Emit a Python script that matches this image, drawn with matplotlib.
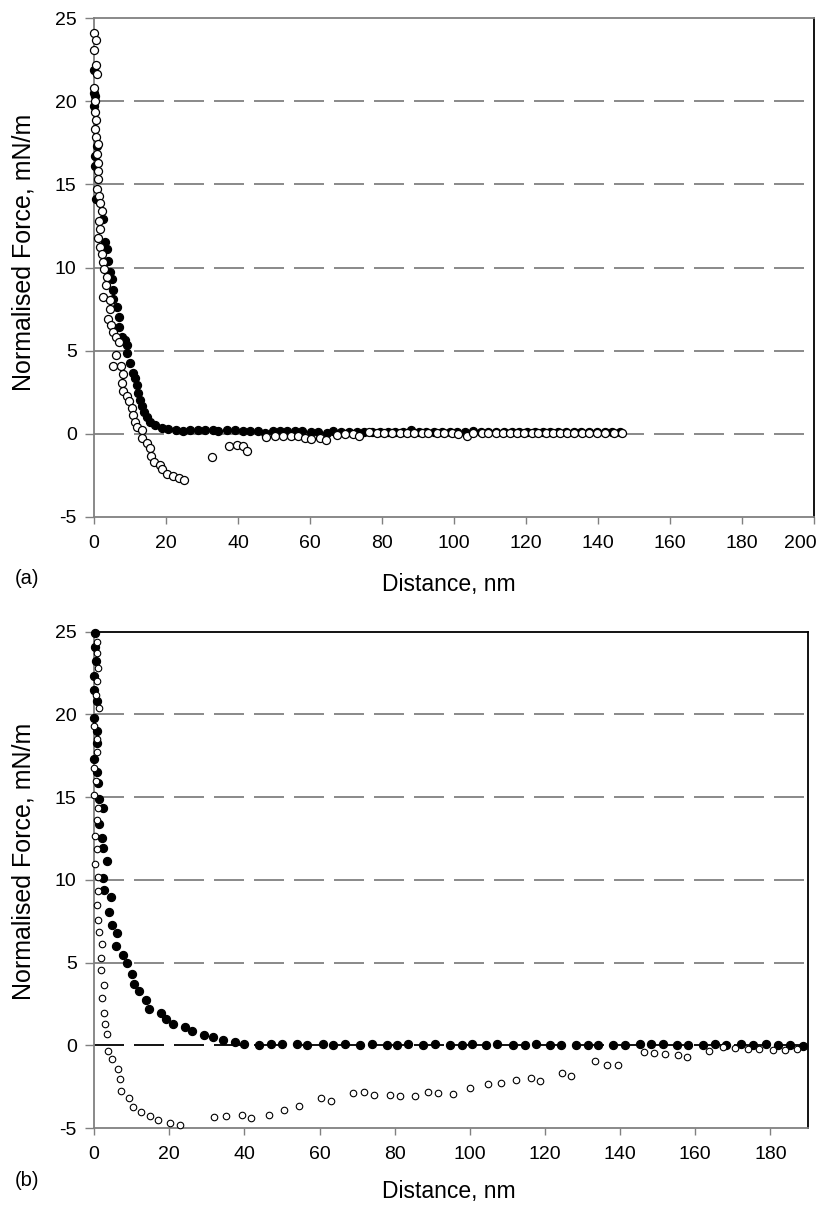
import matplotlib
matplotlib.use('Agg')
import matplotlib.pyplot as plt
import matplotlib.transforms as mtransforms

plt.rcParams['font.family'] = ['Liberation Sans', 'DejaVu Sans']
plt.rcParams['lines.scale_dashes'] = False
plt.rcParams['axes.unicode_minus'] = False

# (a) approach (filled) and separation (open) force curves
a_filled_x = [0.0, 0.0, 0.2, 0.0, 0.7, 0.4, 0.4, 0.6, 2.6, 3.1, 3.5, 4.0, 4.4, 4.9, 5.4, 5.4,
              6.3, 6.8, 7.0, 7.7, 8.6, 9.1, 9.1, 10.0, 10.7, 11.4, 11.9, 12.3, 12.8, 13.2, 13.9,
              14.6, 15.6, 16.9, 18.8, 20.6, 22.9, 24.8, 26.7, 29.0, 30.8, 33.1, 34.5, 36.9, 39.2,
              41.5, 43.3, 45.6, 47.5, 49.8, 51.7, 53.6, 55.9, 57.8, 60.2, 62.3, 64.7, 66.5, 68.6,
              70.8, 73.0, 75.1, 77.3, 79.4, 81.6, 83.7, 85.9, 88.0, 90.2, 92.3, 94.5, 96.6, 98.8,
              100.9, 103.1, 105.2, 107.4, 109.5, 111.7, 113.8, 116.0, 118.1, 120.3, 122.4, 124.6,
              126.7, 128.9, 131.0, 133.2, 135.3, 137.5, 139.6, 141.8, 143.9, 146.1]
a_filled_y = [21.9, 20.5, 20.3, 19.7, 17.3, 16.7, 16.1, 14.1, 12.9, 11.55, 11.1, 10.4, 9.75, 9.3,
              8.65, 8.1, 7.6, 7.0, 6.45, 5.85, 5.65, 5.35, 4.85, 4.25, 3.65, 3.35, 2.95, 2.45, 2.05,
              1.65, 1.34, 1.04, 0.74, 0.54, 0.34, 0.3, 0.24, 0.14, 0.2, 0.24, 0.24, 0.24, 0.14, 0.2,
              0.2, 0.14, 0.14, 0.14, 0.05, 0.14, 0.14, 0.14, 0.14, 0.14, 0.1, 0.12, 0.05, 0.14, 0.1,
              0.1, 0.12, 0.1, 0.1, 0.1, 0.12, 0.1, 0.1, 0.2, 0.1, 0.1, 0.1, 0.1, 0.1, 0.1, 0.1,
              0.15, 0.1, 0.1, 0.1, 0.1, 0.1, 0.1, 0.1, 0.1, 0.1, 0.1, 0.1, 0.1, 0.1, 0.1, 0.1,
              0.1, 0.1, 0.1, 0.1]
a_open_x = [0.0, 0.5, 0.1, 0.55, 0.7, 0.0, 0.3, 0.3, 0.5, 0.2, 0.5, 1.1, 0.8, 1.0, 1.2, 1.1, 0.8,
            1.4, 1.7, 2.1, 1.5, 1.7, 1.2, 1.7, 2.1, 2.6, 2.8, 3.5, 3.3, 2.6, 4.3, 4.4, 4.0, 4.6,
            5.2, 6.1, 7.0, 6.0, 5.4, 7.4, 8.0, 7.9, 8.1, 9.1, 9.8, 10.5, 10.9, 11.4, 12.0, 13.4,
            13.4, 14.6, 15.6, 15.8, 16.7, 18.3, 18.8, 20.4, 22.0, 23.6, 25.1, 32.7, 37.5, 39.8,
            41.5, 42.6, 47.8, 50.3, 52.6, 54.6, 56.7, 58.5, 60.3, 62.7, 64.4, 67.4, 69.7, 71.9,
            73.7, 76.5, 78.5, 80.6, 82.7, 85.0, 86.9, 88.9, 91.0, 92.9, 95.2, 97.2, 99.4, 101.2,
            103.5, 105.4, 107.7, 109.5, 111.7, 113.7, 115.6, 117.4, 119.4, 121.6, 123.4, 125.6,
            127.6, 129.4, 131.3, 133.3, 135.5, 137.6, 139.6, 141.9, 144.3, 146.6]
a_open_y = [24.1, 23.65, 23.05, 22.15, 21.65, 20.8, 20.0, 19.35, 18.85, 18.3, 17.85, 17.4, 16.85,
            16.3, 15.8, 15.3, 14.7, 14.3, 13.9, 13.4, 12.8, 12.3, 11.75, 11.25, 10.8, 10.35, 9.9,
            9.45, 8.95, 8.25, 8.05, 7.5, 6.9, 6.55, 6.15, 5.8, 5.55, 4.75, 4.05, 4.05, 3.6, 3.05,
            2.6, 2.3, 1.95, 1.55, 1.15, 0.74, 0.4, 0.2, -0.26, -0.56, -0.86, -1.32, -1.67, -1.86,
            -2.12, -2.4, -2.53, -2.63, -2.77, -1.42, -0.72, -0.66, -0.72, -1.02, -0.22, -0.16,
            -0.16, -0.16, -0.16, -0.28, -0.34, -0.26, -0.36, -0.06, -0.04, -0.04, -0.12, 0.08,
            0.04, 0.02, 0.02, 0.02, 0.02, 0.04, 0.02, 0.02, 0.02, 0.02, 0.02, 0.0, -0.16, 0.02,
            0.02, 0.02, 0.02, 0.02, 0.02, 0.02, 0.04, 0.04, 0.02, 0.02, 0.02, 0.02, 0.02, 0.02,
            0.02, 0.02, 0.02, 0.02, 0.02, 0.02]

# (b) approach (filled) and separation (open) force curves
b_filled_x = [0.3, 0.3, 0.5, 0.1, 0.0, 0.7, 0.0, 0.7, 0.7, 0.0, 0.9, 1.1, 1.4, 2.3, 1.3, 2.0,
              2.5, 3.4, 2.5, 2.7, 4.5, 4.0, 4.9, 6.0, 5.9, 7.6, 8.9, 10.0, 10.6, 12.0, 13.8, 14.7,
              17.7, 19.1, 20.9, 24.2, 26.1, 29.3, 31.7, 34.2, 37.5, 40.0, 43.9, 47.0, 49.9, 53.9,
              56.7, 61.0, 63.6, 66.9, 70.7, 73.9, 77.9, 80.5, 83.6, 87.6, 90.7, 94.7, 97.8, 100.5,
              104.4, 107.1, 111.5, 114.6, 117.7, 121.3, 124.3, 128.3, 131.4, 134.1, 138.1, 141.2,
              145.2, 148.3, 151.4, 155.0, 158.0, 162.0, 165.2, 168.3, 172.2, 175.4, 178.9, 182.0,
              185.1, 188.7]
b_filled_y = [24.9, 24.1, 23.2, 22.3, 21.5, 20.8, 19.8, 19.0, 18.25, 17.3, 16.5, 15.85, 14.9,
              14.35, 13.4, 12.5, 11.9, 11.15, 10.1, 9.4, 8.95, 8.03, 7.26, 6.8, 6.0, 5.44, 5.0,
              4.28, 3.69, 3.29, 2.72, 2.22, 1.98, 1.62, 1.31, 1.11, 0.85, 0.65, 0.5, 0.3, 0.2, 0.1,
              0.0, 0.1, 0.1, 0.05, 0.0, 0.1, 0.0, 0.1, 0.0, 0.05, 0.0, 0.0, 0.05, 0.0, 0.05, 0.0,
              0.0, 0.05, 0.0, 0.05, 0.0, 0.0, 0.05, 0.0, 0.0, 0.0, 0.0, 0.0, 0.0, 0.0, 0.05, 0.1,
              0.05, 0.0, 0.0, 0.0, 0.05, 0.0, 0.05, 0.0, 0.05, 0.0, 0.0, -0.05]
b_open_x = [0.7, 0.7, 1.1, 0.7, 0.45, 1.3, 0.0, 0.9, 0.7, 0.0, 0.5, 0.0, 1.1, 0.9, 0.3, 0.9, 0.3,
            1.1, 1.1, 0.7, 1.1, 1.3, 2.2, 1.9, 1.9, 2.7, 2.2, 2.7, 2.9, 3.5, 3.8, 4.7, 6.3, 6.9,
            7.3, 9.4, 10.4, 12.6, 15.0, 17.1, 20.2, 23.0, 31.9, 35.1, 39.3, 41.7, 46.6, 50.6,
            54.6, 60.4, 63.1, 68.8, 71.9, 74.4, 78.7, 81.3, 85.3, 89.0, 91.6, 95.4, 100.0, 104.9,
            108.4, 112.2, 116.4, 118.7, 124.6, 127.0, 133.2, 136.5, 139.5, 146.3, 149.1, 152.0,
            155.5, 157.9, 163.6, 167.5, 170.5, 173.9, 176.9, 180.8, 183.9, 187.0]
b_open_y = [24.4, 23.7, 22.8, 22.0, 21.2, 20.4, 19.3, 18.5, 17.7, 16.75, 15.95, 15.1, 14.35, 13.6,
            12.65, 11.85, 10.95, 10.2, 9.3, 8.5, 7.6, 6.85, 6.1, 5.3, 4.55, 3.65, 2.85, 1.95, 1.28,
            0.66, -0.34, -0.8, -1.46, -2.04, -2.74, -3.2, -3.7, -4.06, -4.26, -4.5, -4.7, -4.8,
            -4.34, -4.3, -4.22, -4.4, -4.2, -3.9, -3.66, -3.2, -3.34, -2.9, -2.84, -3.0, -3.0,
            -3.04, -3.04, -2.84, -2.9, -2.96, -2.56, -2.34, -2.26, -2.1, -2.0, -2.16, -1.7, -1.86,
            -0.94, -1.18, -1.16, -0.38, -0.46, -0.5, -0.6, -0.68, -0.34, -0.1, -0.16, -0.22,
            -0.22, -0.28, -0.3, -0.25]

y_ticks = [-5, 0, 5, 10, 15, 20, 25]
grid_levels = [0, 5, 10, 15, 20]

GRAY = '#808080'


def style_axes(ax, xmax, xticks, top_color, zero_color):
    ax.set_xlim(0, xmax)
    ax.set_ylim(-5, 25)
    ax.set_xticks(xticks)
    ax.set_yticks(y_ticks)
    for lvl in grid_levels:
        ax.axhline(lvl, color=zero_color if lvl == 0 else GRAY, lw=1.3,
                   dashes=(21.6, 7.2), zorder=1)
    ax.spines['left'].set_color(GRAY)
    ax.spines['bottom'].set_color(GRAY)
    ax.spines['top'].set_color(top_color)
    ax.spines['right'].set_color('black')
    for s in ax.spines.values():
        s.set_linewidth(1.3)
    ax.tick_params(axis='both', direction='out', color=GRAY, width=1.0, labelsize=14)
    ax.tick_params(axis='x', length=5, pad=8)
    ax.tick_params(axis='y', length=6.5, pad=6)


fig = plt.figure(figsize=(8.22, 12.11), dpi=100)

# top panel
ax1 = fig.add_axes([0.1144, 0.5731, 0.8759, 0.4120])
style_axes(ax1, 200, list(range(0, 201, 20)), GRAY, GRAY)
ax1.plot(a_filled_x, a_filled_y, 'o', ms=5.8, mfc='black', mec='black', mew=0.9,
         clip_on=False, zorder=3)
ax1.plot(a_open_x, a_open_y, 'o', ms=5.8, mfc='white', mec='black', mew=0.9,
         clip_on=False, zorder=4)
# keep the last x label inside the figure edge
last = ax1.get_xticklabels()[-1]
last.set_transform(last.get_transform() +
                   mtransforms.ScaledTranslation(-10 / 72, 0, fig.dpi_scale_trans))

# bottom panel
ax2 = fig.add_axes([0.1144, 0.0685, 0.8686, 0.4099])
style_axes(ax2, 190, list(range(0, 181, 20)), 'black', 'black')
ax2.plot(b_filled_x, b_filled_y, 'o', ms=5.9, mfc='black', mec='black', mew=0.8,
         clip_on=False, zorder=3)
ax2.plot(b_open_x, b_open_y, 'o', ms=4.7, mfc='white', mec='black', mew=0.8,
         clip_on=False, zorder=4)

# axis titles and panel letters
for yc, ylab_y, letter, letter_y in [(0.517, 0.792, '(a)', 0.522), (0.0165, 0.289, '(b)', 0.0255)]:
    fig.text(0.546, yc, 'Distance, nm', ha='center', va='center', fontsize=16.5)
    fig.text(0.028, ylab_y, 'Normalised Force, mN/m', ha='center', va='center',
             rotation=90, fontsize=18)
    fig.text(0.018, letter_y, letter, ha='left', va='center', fontsize=14.5)

fig.savefig('out.png', dpi=100)
